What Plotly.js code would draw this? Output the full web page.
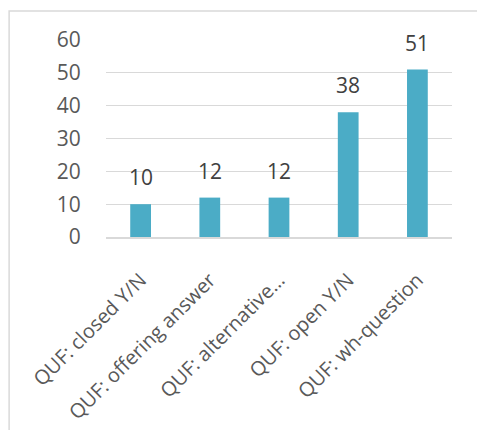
<!DOCTYPE html>
<html>
<head>
<meta charset="utf-8">
<script src="https://cdn.plot.ly/plotly-3.0.1.min.js"></script>
<style>
  html, body { margin: 0; padding: 0; background: #ffffff; }
  #chart { width: 477px; height: 430px; }
</style>
</head>
<body>
<div id="chart"></div>
<script>
// Question-use frequencies by question type
const categories = [
  "QUF: closed Y/N",
  "QUF: offering answer",
  "QUF: alternative…",
  "QUF: open Y/N",
  "QUF: wh-question"
];
const counts = [10, 12, 12, 38, 51];
const yTicks = [0, 10, 20, 30, 40, 50, 60];

const FONT = "'Open Sans', 'Noto Sans', sans-serif";

const bars = {
  type: "bar",
  x: categories,
  y: counts,
  width: 0.3,
  marker: { color: "#4BACC6", line: { width: 0 } },
  hoverinfo: "x+y"
};

// value labels above each bar
const valueLabels = categories.map((c, i) => ({
  x: c,
  y: counts[i],
  xref: "x",
  yref: "y",
  text: String(counts[i]),
  showarrow: false,
  yanchor: "bottom",
  yshift: 11,
  font: { family: FONT, size: 21, color: "#404040" }
}));

const layout = {
  width: 477,
  height: 430,
  margin: { l: 106, r: 25, t: 40, b: 193 },
  paper_bgcolor: "#ffffff",
  plot_bgcolor: "#ffffff",
  showlegend: false,
  font: { family: FONT, size: 21, color: "#595959" },
  xaxis: {
    type: "category",
    tickangle: -45,
    ticks: "outside",
    ticklen: 22,
    tickcolor: "rgba(0,0,0,0)",
    showline: true,
    linecolor: "#D9D9D9",
    linewidth: 1.5,
    showgrid: false,
    tickfont: { family: FONT, size: 20, color: "#595959" },
    fixedrange: true
  },
  yaxis: {
    range: [0, 60],
    tickvals: yTicks,
    ticktext: yTicks.map(String),
    showgrid: true,
    gridcolor: "#D9D9D9",
    gridwidth: 1,
    zeroline: false,
    showline: false,
    ticks: "outside",
    ticklen: 20,
    tickcolor: "rgba(0,0,0,0)",
    tickfont: { family: FONT, size: 21, color: "#595959" },
    fixedrange: true
  },
  shapes: [
    {
      // chart frame
      type: "rect",
      xref: "paper",
      yref: "paper",
      x0: -0.280,
      y0: -2,
      x1: 2,
      y1: 1.147,
      line: { color: "#D9D9D9", width: 1.5 },
      fillcolor: "rgba(0,0,0,0)",
      layer: "below"
    }
  ],
  annotations: valueLabels
};

Plotly.newPlot("chart", [bars], layout, { displayModeBar: false, staticPlot: true });
</script>
</body>
</html>
